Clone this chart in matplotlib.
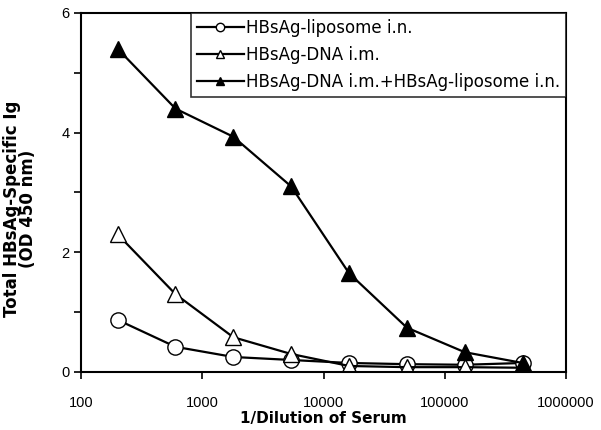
import matplotlib
matplotlib.use('Agg')
import matplotlib.pyplot as plt
from matplotlib.ticker import FixedLocator, FixedFormatter, NullLocator

plt.rcParams['font.family'] = ['Liberation Sans', 'DejaVu Sans']

# 1/dilution of serum (3-fold series)
dilution = [200, 600, 1800, 5400, 16200, 48600, 145800, 437400]

# OD 450 nm readings
liposome_in = [0.87, 0.42, 0.25, 0.20, 0.15, 0.13, 0.12, 0.15]
dna_im = [2.30, 1.30, 0.58, 0.30, 0.10, 0.08, 0.08, 0.07]
dna_im_liposome_in = [5.40, 4.40, 3.93, 3.10, 1.65, 0.74, 0.33, 0.15]

labels = ['HBsAg-liposome i.n.', 'HBsAg-DNA i.m.', 'HBsAg-DNA i.m.+HBsAg-liposome i.n.']
x_ticks = [100, 1000, 10000, 100000, 1000000]
x_tick_labels = ['100', '1000', '10000', '100000', '1000000']

fig = plt.figure(figsize=(6.01, 4.30), dpi=100)
ax = fig.add_axes([0.135, 0.135, 0.807, 0.835])

ax.plot(dilution, liposome_in, color='black', lw=1.6, marker='o', ms=11,
        mfc='white', mec='black', mew=1.0, label=labels[0])
ax.plot(dilution, dna_im, color='black', lw=1.6, marker='^', ms=11,
        mfc='white', mec='black', mew=1.0, label=labels[1])
ax.plot(dilution, dna_im_liposome_in, color='black', lw=1.6, marker='^', ms=11,
        mfc='black', mec='black', mew=1.0, label=labels[2])

ax.set_xscale('log')
ax.set_xlim(100, 1000000)
ax.set_ylim(0, 6)
ax.xaxis.set_major_locator(FixedLocator(x_ticks))
ax.xaxis.set_major_formatter(FixedFormatter(x_tick_labels))
ax.xaxis.set_minor_locator(NullLocator())
ax.set_yticks([0, 2, 4, 6])
ax.set_yticks([1, 3, 5], minor=True)
ax.tick_params(axis='both', which='both', direction='out', length=5, width=1.2,
               labelsize=10.5, color='black')
ax.tick_params(axis='x', pad=12)

for s in ax.spines.values():
    s.set_linewidth(1.5)
    s.set_color('black')

ax.set_xlabel('1/Dilution of Serum', fontsize=11, fontweight='bold', labelpad=1,
              family='DejaVu Sans')
ax.set_ylabel('Total HBsAg-Specific Ig\n(OD 450 nm)', fontsize=12, fontweight='bold',
              linespacing=0.9, family='DejaVu Sans')
ax.yaxis.set_label_coords(-0.09, 0.455)

leg = ax.legend(loc='upper right', frameon=True, fancybox=False,
                prop={'family': 'DejaVu Sans', 'size': 12},
                borderaxespad=0, handlelength=2.8, handletextpad=0.15,
                borderpad=0.35, labelspacing=0.55, markerscale=0.55)
leg.get_frame().set_edgecolor('black')
leg.get_frame().set_linewidth(1.2)

plt.savefig('out.png', dpi=100)
plt.close()
